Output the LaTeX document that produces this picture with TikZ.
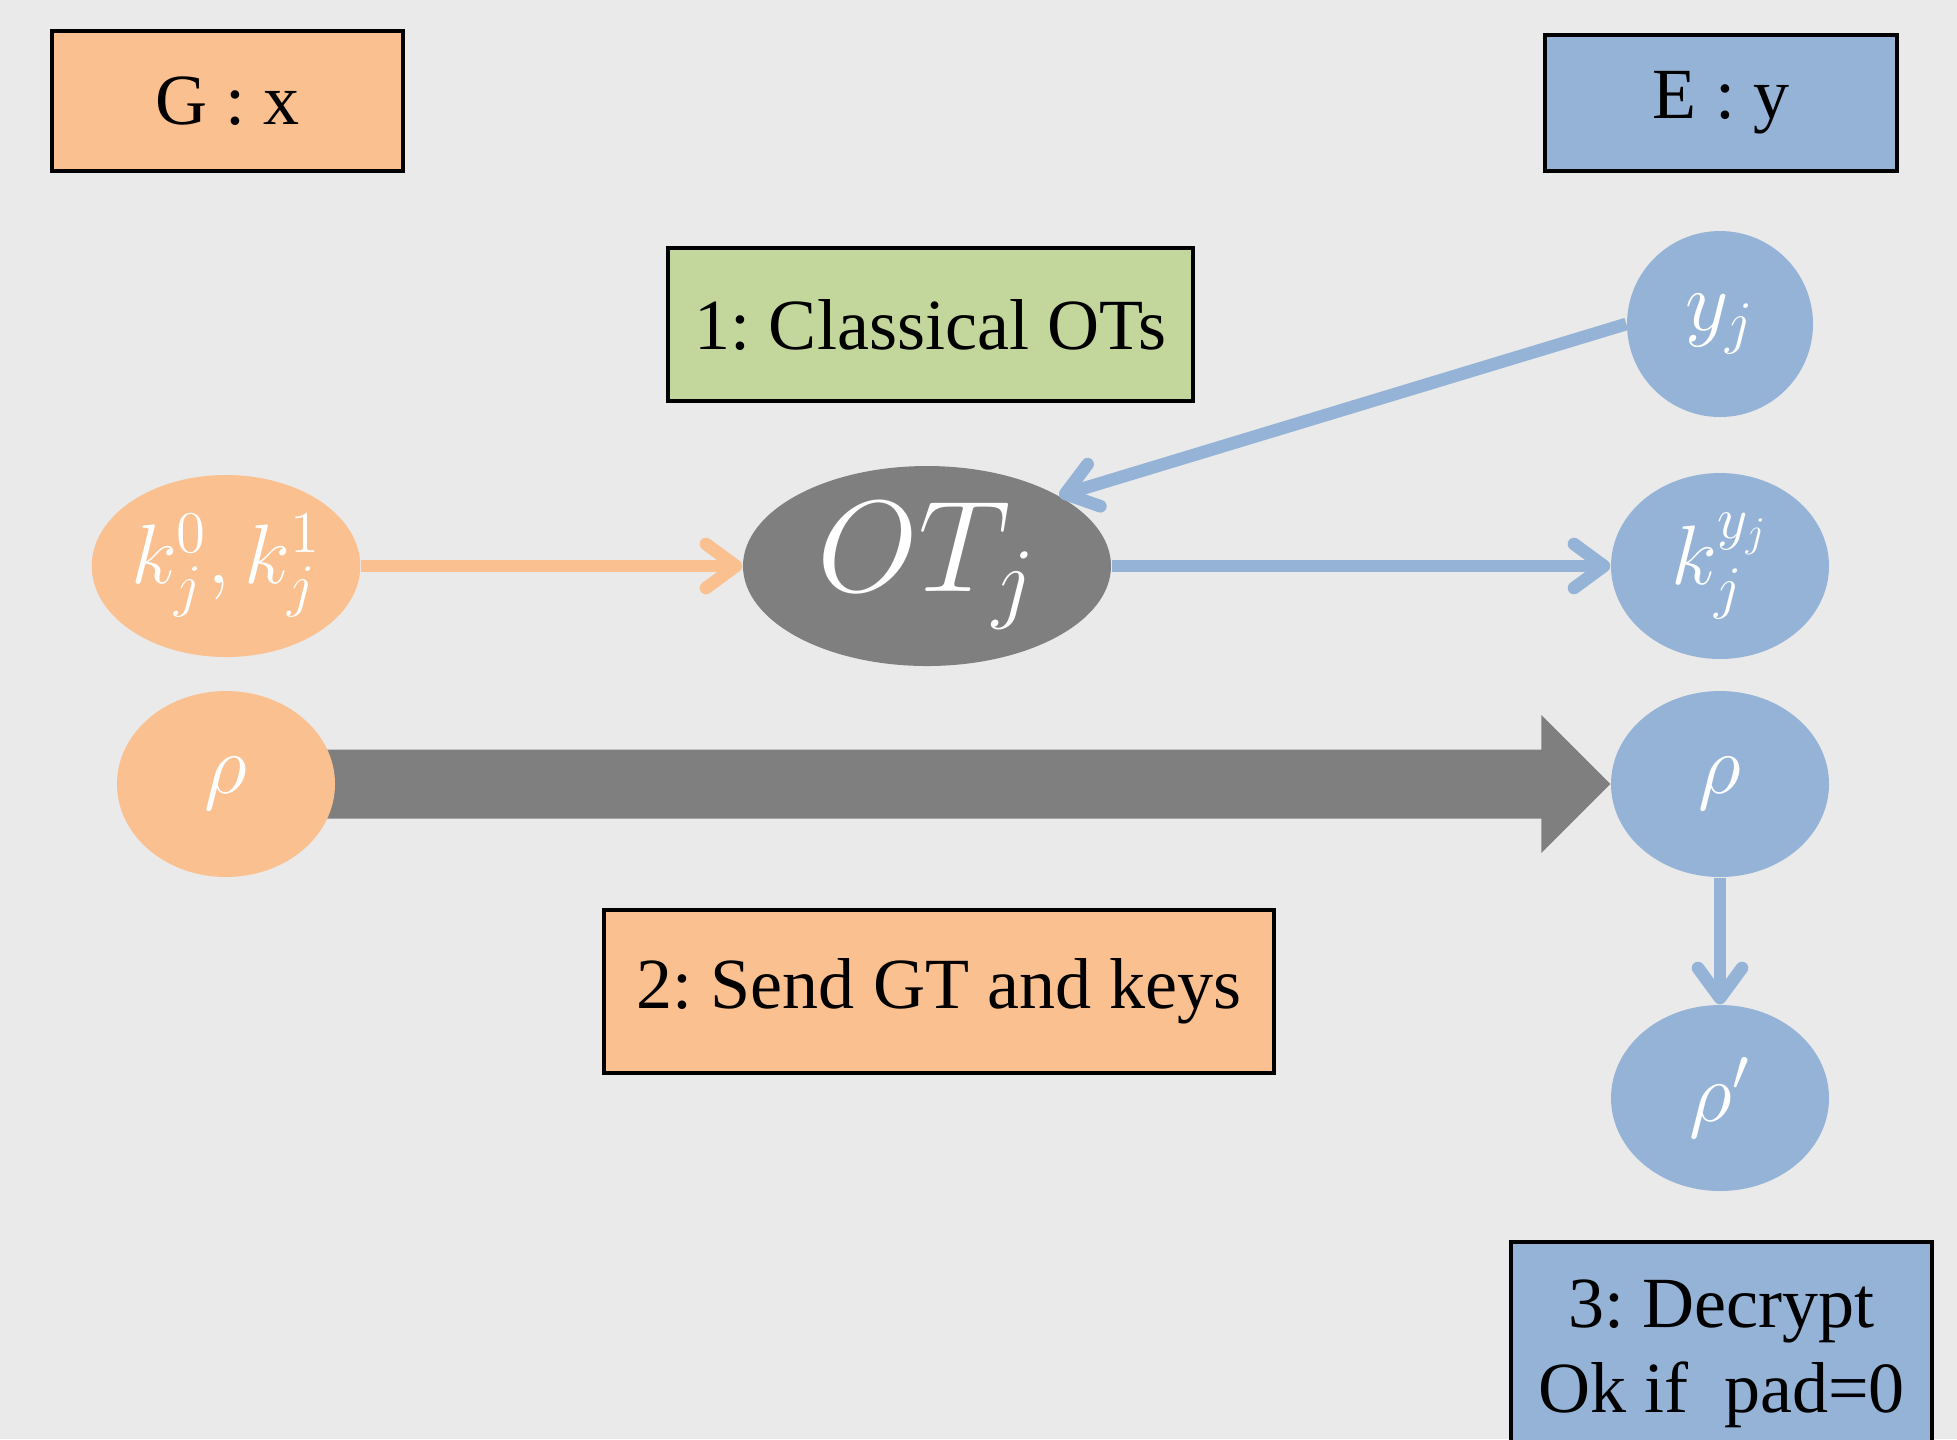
\RequirePackage{fix-cm}
\documentclass[tikz,border=0pt]{standalone}
\usepackage{amsmath}
\usepackage{fontspec}
\setmainfont{Liberation Serif}
\usetikzlibrary{arrows.meta,shapes.geometric}
\definecolor{bgGray}{HTML}{EAEAEA}
\definecolor{gOrange}{HTML}{FAC090}
\definecolor{eBlue}{HTML}{95B3D7}
\definecolor{otGreen}{HTML}{C3D69B}
\definecolor{otGray}{HTML}{7F7F7F}
\pgfdeclarelayer{background}
\pgfsetlayers{background,main}
\tikzset{
  party/.style={draw=black, line width=1pt, inner sep=0pt, font=\fontsize{20.5}{24}\selectfont\frenchspacing},
  blob/.style={ellipse, inner sep=0pt, text=white, font=\fontsize{24}{28}\selectfont,
    minimum width=2.18cm, minimum height=1.86cm},
  wire/.style={line width=3.6pt, -{Straight Barb[length=3mm,width=4.4mm,round]}},
}

\begin{document}
\begin{tikzpicture}[x=1cm,y=-1cm]
                \useasboundingbox (0,0) rectangle (19.57,14.39);
                \clip (0,0) rectangle (19.57,14.39);
                \begin{pgfonlayer}{background}
                \fill[bgGray] (0,0) rectangle (19.57,14.39);
                \end{pgfonlayer}
                % the two parties
                \node[party, fill=gOrange, minimum width=3.51cm, minimum height=1.40cm] (G) at (2.275,1.01) {G : x};
                \node[party, fill=eBlue, minimum width=3.52cm, minimum height=1.36cm] (E) at (17.21,1.03) {E : y};
                % steps
                \node[party, fill=otGreen, minimum width=5.25cm, minimum height=1.53cm] (step1) at (9.305,3.245) {1: Classical OTs};
                \node[party, fill=gOrange, minimum width=6.70cm, minimum height=1.63cm] (step2) at (9.39,9.915) {2: Send GT and keys};
                \node[party, fill=eBlue, minimum width=4.21cm, minimum height=2.24cm, anchor=north, align=center] (step3) at (17.215,12.40) {3: Decrypt\\Ok if\ \ pad=0};
                % keys and states
                \node[blob, fill=gOrange, minimum width=2.64cm, minimum height=1.82cm] (kG) at (2.26,5.66) {$k_j^0,k_j^1$};
                \node[blob, fill=otGray, minimum width=3.68cm, minimum height=2.00cm, font=\fontsize{37}{40}\selectfont] (OT) at (9.27,5.66) {$OT_j$};
                \node[blob, fill=eBlue, minimum width=1.86cm] (yj) at (17.20,3.24) {$y_j$};
                \node[blob, fill=eBlue] (kE) at (17.20,5.66) {$k_j^{y_j}$};
                \node[blob, fill=gOrange] (rhoG) at (2.26,7.84) {$\rho$};
                \node[blob, fill=eBlue] (rhoE) at (17.20,7.84) {$\rho$};
                \node[blob, fill=eBlue] (rhoP) at (17.20,10.98) {$\rho'$};
                % connectors
                \draw[wire, gOrange] (kG.east) -- (OT.west);
                \draw[wire, eBlue] (OT.east) -- (kE.west);
                \draw[wire, eBlue] (yj.west) -- (OT.28);
                \draw[wire, eBlue] (rhoE.south) -- (rhoP.north);
                \begin{pgfonlayer}{background}
                \fill[otGray] ([yshift=0.345cm]rhoG.center) -- ([xshift=-0.69cm,yshift=0.345cm]rhoE.west)
                    -- ([xshift=-0.69cm,yshift=0.69cm]rhoE.west) -- (rhoE.west)
                    -- ([xshift=-0.69cm,yshift=-0.69cm]rhoE.west) -- ([xshift=-0.69cm,yshift=-0.345cm]rhoE.west)
                    -- ([yshift=-0.345cm]rhoG.center) -- cycle;
                \end{pgfonlayer}
            \end{tikzpicture}
\end{document}
